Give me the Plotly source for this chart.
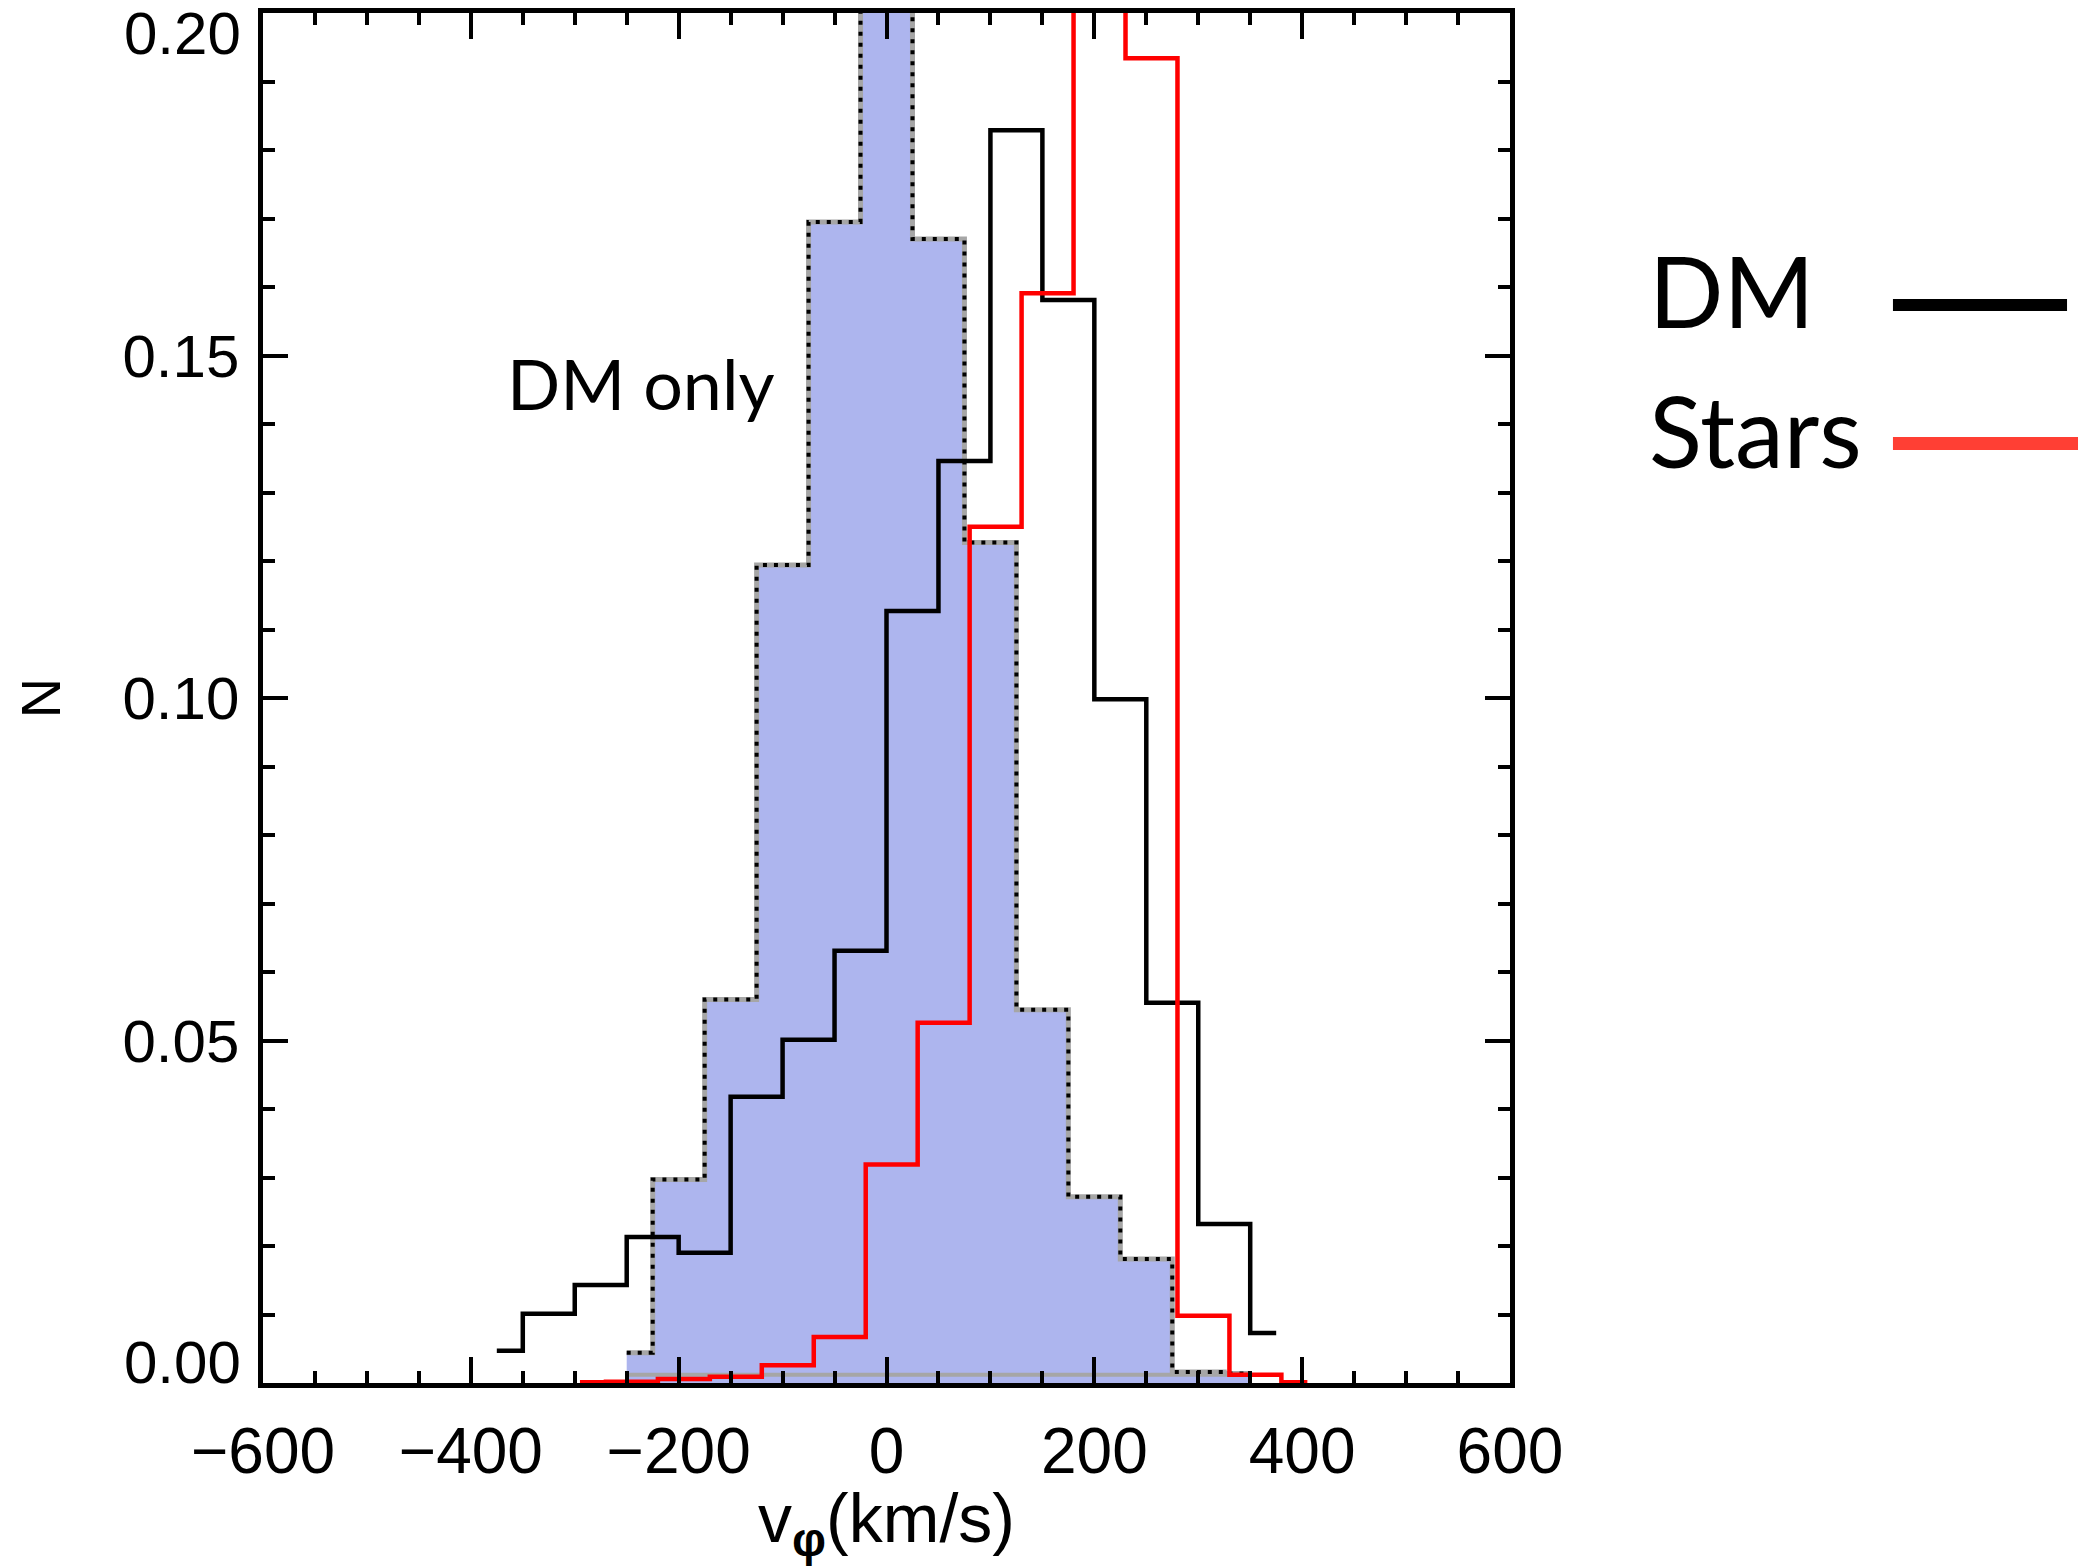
import plotly.graph_objects as go

# ---------------- data ----------------
# DM histogram (solid black), bin centres (km/s) and normalised counts
dm_centers = [-375, -325, -275, -225, -175, -125, -75, -25, 25, 75, 125, 175, 225, 275, 325, 375]
dm_values = [0.0047, 0.0101, 0.0143, 0.0213, 0.0190, 0.0418, 0.0501, 0.0631,
             0.1127, 0.1346, 0.1829, 0.1581, 0.0998, 0.0555, 0.0232, 0.0073]

# Stars histogram (red)
stars_centers = [-295, -245, -195, -145, -95, -45, 5, 55, 105, 155, 205, 255, 305, 355, 405]
stars_values = [0.0001, 0.0002, 0.0006, 0.0009, 0.0026, 0.0067, 0.0319, 0.0526,
                0.1250, 0.1591, 0.2600, 0.1934, 0.0098, 0.0012, 0.0001]

# "DM only" histogram (blue filled, dotted outline)
dmonly_centers = [-250, -200, -150, -100, -50, 0, 50, 100, 150, 200, 250, 300, 350]
dmonly_values = [0.0044, 0.0297, 0.0560, 0.1194, 0.1695, 0.2400, 0.1670,
                 0.1227, 0.0545, 0.0272, 0.0181, 0.0016, 0.0014]
dmonly_base = 0.0012

x_tick_vals = [-600, -400, -200, 0, 200, 400, 600]
x_tick_labels = ["\u2212600", "\u2212400", "\u2212200", "0", "200", "400", "600"]
y_tick_vals = [0.00, 0.05, 0.10, 0.15, 0.20]
y_tick_labels = ["0.00", "0.05", "0.10", "0.15", "0.20"]

x_title = "v<sub><b>\u03c6</b></sub>(km/s)"
y_title = "N"
panel_label = "DM only"
legend_names = ["DM", "Stars"]

# ---------------- styling ----------------
BLUE_FILL = "#ADB5EE"
GRAY = "#A6A6A6"
RED = "#FF0000"
LEGEND_RED = "#FF3F34"
AXIS_FONT = "Liberation Sans"
TEXT_FONT = "Lato"
LW = 4.5

fig = go.Figure()

# filled DM-only histogram with gray outline
fig.add_trace(go.Scatter(
    x=dmonly_centers, y=dmonly_values, mode="lines",
    line=dict(shape="hvh", color=GRAY, width=5),
    fill="tozeroy", fillcolor=BLUE_FILL, showlegend=False, hoverinfo="skip"))
# gray baseline of the filled polygon
fig.add_trace(go.Scatter(
    x=[dmonly_centers[0], dmonly_centers[-1]], y=[dmonly_base, dmonly_base],
    mode="lines", line=dict(color=GRAY, width=4), showlegend=False, hoverinfo="skip"))
# dotted outline
fig.add_trace(go.Scatter(
    x=dmonly_centers, y=dmonly_values, mode="lines",
    line=dict(shape="hvh", color="black", width=4, dash="4px,7px"),
    showlegend=False, hoverinfo="skip"))

# DM histogram
fig.add_trace(go.Scatter(
    x=dm_centers, y=dm_values, mode="lines",
    line=dict(shape="hvh", color="black", width=LW),
    name=legend_names[0], showlegend=False))

# Stars histogram
fig.add_trace(go.Scatter(
    x=stars_centers, y=stars_values, mode="lines",
    line=dict(shape="hvh", color=RED, width=LW),
    name=legend_names[1], showlegend=False))

# panel label
fig.add_annotation(x=-236, y=0.1460, xref="x", yref="y", text=panel_label,
                   showarrow=False, xanchor="center", yanchor="middle",
                   font=dict(family=TEXT_FONT, size=70, color="black"))

# custom legend (text left, line right) outside the plot
legend_y_text = [0.7980, 0.6955]
legend_y_line = [0.7869, 0.6858]
legend_colors = ["black", LEGEND_RED]
legend_line_w = [12, 13]
legend_line_x1 = [1.4467, 1.4555]
for i, name in enumerate(legend_names):
    fig.add_annotation(x=1.1100, y=legend_y_text[i], xref="paper", yref="paper",
                       text=name, showarrow=False, xanchor="left", yanchor="middle",
                       font=dict(family=TEXT_FONT, size=98, color="black"))
    fig.add_shape(type="line", xref="paper", yref="paper",
                  x0=1.3071, x1=legend_line_x1[i], y0=legend_y_line[i], y1=legend_y_line[i],
                  line=dict(color=legend_colors[i], width=legend_line_w[i]))

axis_common = dict(
    showline=True, linewidth=LW, linecolor="black", mirror="ticks",
    ticks="inside", tickwidth=4, tickcolor="black",
    showgrid=False, zeroline=False, automargin=False,
)

fig.update_xaxes(
    range=[-600, 600], tickmode="array", tickvals=x_tick_vals, ticktext=x_tick_labels,
    ticklen=26, ticklabelstandoff=8,
    tickfont=dict(family=AXIS_FONT, size=64, color="black"),
    minor=dict(ticks="inside", ticklen=12, tickwidth=4, tickcolor="black",
               tickmode="linear", tick0=0, dtick=50, showgrid=False),
    title=dict(text=x_title, font=dict(family=AXIS_FONT, size=68, color="black"), standoff=20),
    **axis_common)

# interior y tick labels on the axis; the two end labels sit slightly inside
# the frame (as in the reference) and are placed as text next to the axis
fig.update_yaxes(
    range=[0, 0.2], tickmode="array", tickvals=y_tick_vals, ticktext=["", *y_tick_labels[1:-1], ""],
    ticklen=25, ticklabelstandoff=7,
    tickfont=dict(family=AXIS_FONT, size=60, color="black"),
    minor=dict(ticks="inside", ticklen=12, tickwidth=4, tickcolor="black",
               tickmode="linear", tick0=0, dtick=0.01, showgrid=False),
    title=dict(text=y_title, font=dict(family=AXIS_FONT, size=56, color="black"), standoff=45),
    **axis_common)

end_label_pos = [0.0146, 0.9854]
for lab, ypos in zip([y_tick_labels[0], y_tick_labels[-1]], end_label_pos):
    fig.add_annotation(x=0, y=ypos, xref="paper", yref="paper", text=lab,
                       showarrow=False, xanchor="right", yanchor="middle", xshift=-20,
                       font=dict(family=AXIS_FONT, size=60, color="black"))

fig.update_layout(
    width=2100, height=1566,
    margin=dict(l=263, r=590, t=13, b=183, pad=0),
    paper_bgcolor="white", plot_bgcolor="white",
    showlegend=False,
)

fig.write_html("out.html", config={"displayModeBar": False},
               post_script="document.body.style.margin='0px';")
